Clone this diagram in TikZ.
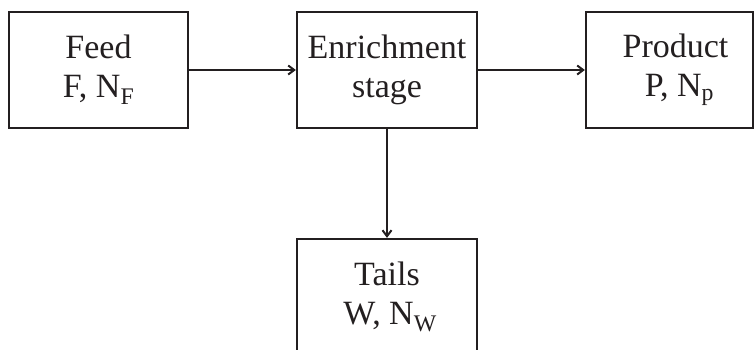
\documentclass[tikz,border=0pt]{standalone}
\usepackage{fontspec}
\setmainfont{Liberation Serif}
\usetikzlibrary{arrows.meta}
\definecolor{ink}{HTML}{231F20}
\begin{document}
\begin{tikzpicture}[x=1pt,y=-1pt,
  stagebox/.style={draw=ink, text=ink, line width=2.3pt, inner sep=0pt,
    minimum height=116pt, align=center,
    font=\fontsize{34}{39}\selectfont},
  flow/.style={draw=ink, line width=2pt,
    -{Straight Barb[length=6pt,width=9pt,line width=2pt]}}
  ]
  \useasboundingbox (0,0) rectangle (755,349);
  \clip (0,0) rectangle (755,349);

  \node[stagebox, minimum width=179pt] (feed) at (98.5,70) {Feed\\F, N\textsubscript{F}};
  \node[stagebox, minimum width=180pt] (enrich) at (387,70) {Enrichment\\stage};
  \node[stagebox, minimum width=167pt] (product) at (669.5,70) {\hspace*{12pt}Product\\\hspace*{20pt}P, N\textsubscript{p}};
  \node[stagebox, minimum width=180pt] (tails) at (387,297) {Tails\\\hspace*{6pt}W, N\textsubscript{W}};

  \draw[flow] (feed) -- (enrich);
  \draw[flow] (enrich) -- (product);
  \draw[flow] (enrich) -- (tails);
\end{tikzpicture}
\end{document}
